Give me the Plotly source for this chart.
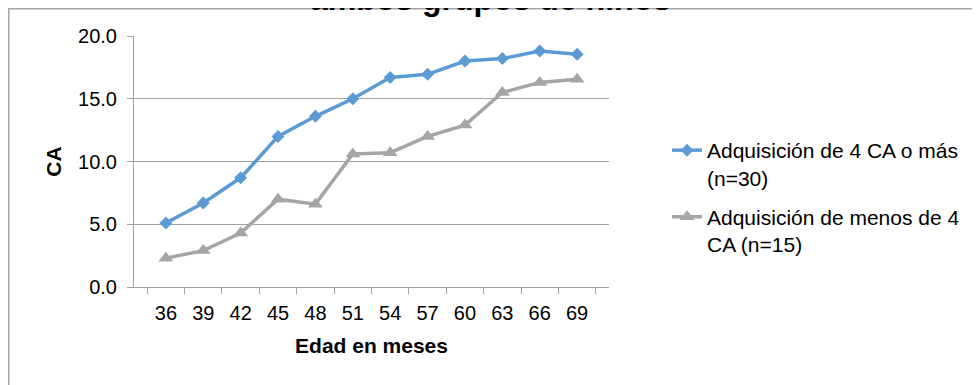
import plotly.graph_objects as go

months = ["36", "39", "42", "45", "48", "51", "54", "57", "60", "63", "66", "69"]
grupo_4_o_mas = [5.1, 6.7, 8.7, 12.0, 13.6, 15.0, 16.7, 16.95, 18.0, 18.2, 18.8, 18.55]
grupo_menos_4 = [2.3, 2.9, 4.3, 7.0, 6.6, 10.6, 10.7, 12.0, 12.9, 15.5, 16.3, 16.55]
series_names = ["Adquisición de 4 CA o más<br>(n=30)", "Adquisición de menos de 4<br>CA (n=15)"]
title_text = "ambos grupos de niños"
x_title = "Edad en meses"
y_title = "CA"

# page body margin of the browser shifts the figure by 8px
OFF = 8
W, H = 980, 385
# plot area in screen pixels: x 134..609, y 36..287
ML = 134 - OFF
MT = 36 - OFF
MR = W - (609 - OFF)
MB = H - (287 - OFF)
PW, PH = W - ML - MR, H - MT - MB

def xp(px):
    return (px - OFF - ML) / PW

def yp(py):
    return (H - MB - (py - OFF)) / PH

FONT = "Liberation Sans, Arial, sans-serif"
GRID = "#a0a0a0"

fig = go.Figure()
fig.add_trace(go.Scatter(
    x=months, y=grupo_4_o_mas, name=series_names[0], mode="lines+markers",
    legendgroup="a",
    line=dict(color="#5B9BD5", width=3.5),
    marker=dict(symbol="diamond", size=10, color="#5B9BD5"),
))
fig.add_trace(go.Scatter(
    x=months, y=grupo_menos_4, name=series_names[1], mode="lines+markers",
    legendgroup="b",
    line=dict(color="#A5A5A5", width=3.5),
    marker=dict(symbol="triangle-up", size=13, color="#A5A5A5"),
))

fig.update_layout(
    width=W, height=H,
    margin=dict(l=ML, r=MR, t=MT, b=MB, pad=0),
    paper_bgcolor="white", plot_bgcolor="white",
    font=dict(family=FONT, size=20, color="black"),
    showlegend=True,
    legend=dict(
        x=xp(667), y=yp(130), xanchor="left", yanchor="top",
        font=dict(size=21, color="black"), valign="top",
        itemwidth=30, bgcolor="rgba(0,0,0,0)", tracegroupgap=9,
    ),
    xaxis=dict(
        type="category", tickson="boundaries", ticks="outside", ticklen=6,
        tickcolor=GRID, showline=True, linecolor=GRID, linewidth=1,
        showgrid=False, tickfont=dict(size=20), ticklabelstandoff=8,
        automargin=False,
        title=dict(text="<b>" + x_title + "</b>", font=dict(size=21), standoff=15),
    ),
    yaxis=dict(
        range=[0, 20], dtick=5, tickformat=".1f", ticks="outside", ticklen=6,
        tickcolor=GRID, showline=True, linecolor=GRID, linewidth=1,
        showgrid=True, gridcolor=GRID, gridwidth=1, zeroline=False,
        tickfont=dict(size=20), ticklabelstandoff=6, automargin=False,
        title=dict(text="<b>" + y_title + "</b>", font=dict(size=21), standoff=10),
    ),
)

fig.add_annotation(
    text="<b>" + title_text + "</b>", xref="paper", yref="paper",
    x=xp(490), y=yp(19), xanchor="center", yanchor="bottom",
    showarrow=False, font=dict(size=32, color="black"),
)

# chart-area outline (only its top and left edges fall inside the page)
fig.add_shape(type="rect", xref="paper", yref="paper", layer="above",
              x0=xp(8.75), y0=yp(400), x1=xp(1000), y1=yp(8.75),
              line=dict(color="#a6a6a6", width=1.5), fillcolor="rgba(0,0,0,0)")

fig.write_html("out.html")
